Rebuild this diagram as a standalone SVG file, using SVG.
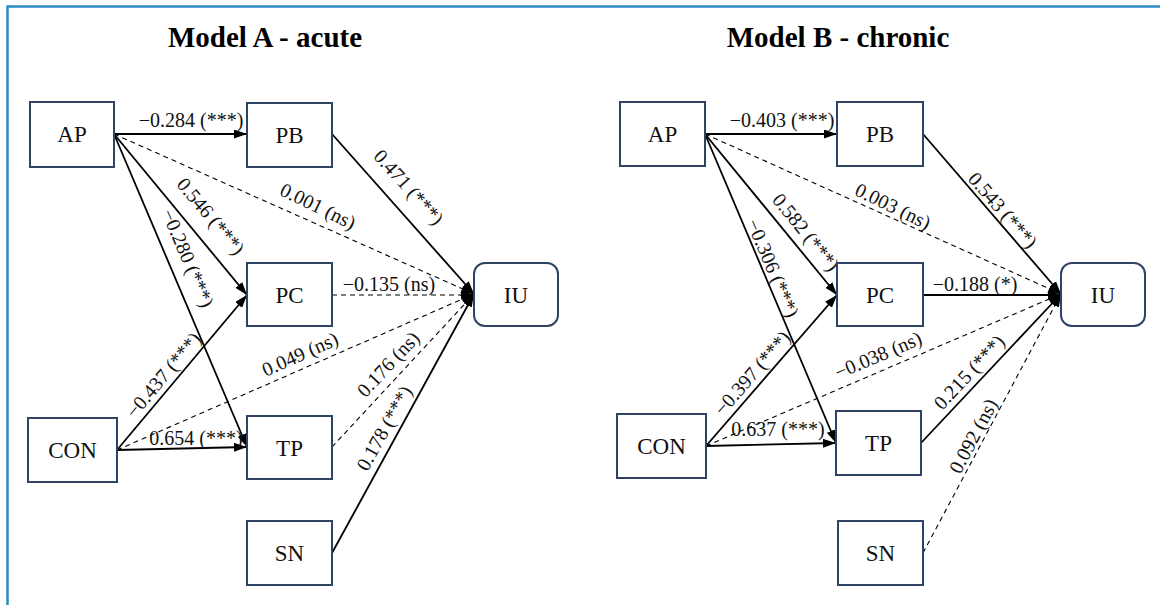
<svg xmlns="http://www.w3.org/2000/svg" width="1160" height="605" viewBox="0 0 1160 605">
<defs>
<marker id="ah" markerUnits="userSpaceOnUse" markerWidth="13" markerHeight="9" refX="13" refY="4.5" orient="auto">
<path d="M0,0 L13,4.5 L0,9 z" fill="#000"/>
</marker>
<style>
.frame{fill:none;stroke:#2a8cc4;stroke-width:2.5}
.box{fill:#fff;stroke:#2f4464;stroke-width:2}
.nt{font-size:23px;fill:#111;text-anchor:middle}
.title{font-size:29px;font-weight:bold;fill:#000;text-anchor:middle}
.el{font-size:20px;fill:#111;text-anchor:middle}
.s{stroke:#000;stroke-width:1.8;fill:none;marker-end:url(#ah)}
.d{stroke:#000;stroke-width:1.1;stroke-dasharray:5 4;fill:none;marker-end:url(#ah)}
</style>
</defs>
<rect width="1160" height="605" fill="#fff"/>
<path class="frame" d="M7.5,605 L7.5,6.5 L1160,6.5"/>
<g font-family="'Liberation Serif', 'Times New Roman', serif">
<text class="title" x="265" y="47">Model A - acute</text>
<text class="title" x="838" y="47">Model B - chronic</text>

<g id="connectors">
<!-- Model A -->
<line class="s" x1="114" y1="134" x2="247" y2="134"/>
<line class="d" x1="114" y1="134" x2="474" y2="294"/>
<line class="s" x1="114" y1="134" x2="247" y2="295"/>
<line class="s" x1="114" y1="134" x2="247" y2="447"/>
<line class="s" x1="117" y1="450" x2="247" y2="295"/>
<line class="s" x1="117" y1="450" x2="247" y2="447"/>
<line class="d" x1="117" y1="450" x2="474" y2="294"/>
<line class="s" x1="332" y1="134" x2="474" y2="294"/>
<line class="d" x1="332" y1="295" x2="474" y2="295"/>
<line class="d" x1="332" y1="447" x2="474" y2="294"/>
<line class="s" x1="332" y1="553" x2="474" y2="294"/>
<!-- Model B -->
<line class="s" x1="705" y1="134" x2="837" y2="134"/>
<line class="d" x1="705" y1="134" x2="1061" y2="294"/>
<line class="s" x1="705" y1="134" x2="837" y2="295"/>
<line class="s" x1="705" y1="134" x2="836" y2="443"/>
<line class="s" x1="706" y1="446" x2="837" y2="295"/>
<line class="s" x1="706" y1="446" x2="836" y2="443"/>
<line class="d" x1="706" y1="446" x2="1061" y2="294"/>
<line class="s" x1="923" y1="134" x2="1061" y2="294"/>
<line class="s" x1="923" y1="295" x2="1061" y2="295"/>
<line class="s" x1="921" y1="443" x2="1061" y2="294"/>
<line class="d" x1="923" y1="553" x2="1061" y2="294"/>

<!-- labels Model A -->
<text class="el" x="191" y="127">−0.284 (***)</text>
<text class="el" transform="translate(318,206) rotate(26)" dy="0.35em">0.001 (ns)</text>
<text class="el" transform="translate(211,216) rotate(50)" dy="0.35em">0.546 (***)</text>
<text class="el" transform="translate(188,258) rotate(67)" dy="0.35em">−0.280 (***)</text>
<text class="el" transform="translate(163,375) rotate(-50)" dy="0.35em">−0.437 (***)</text>
<text class="el" x="196" y="445">0.654 (***)</text>
<text class="el" transform="translate(300,354) rotate(-24)" dy="0.35em">0.049 (ns)</text>
<text class="el" transform="translate(409,187) rotate(48)" dy="0.35em">0.471 (***)</text>
<text class="el" x="389" y="291">−0.135 (ns)</text>
<text class="el" transform="translate(388,364) rotate(-47)" dy="0.35em">0.176 (ns)</text>
<text class="el" transform="translate(384,428) rotate(-61)" dy="0.35em">0.178 (***)</text>
<!-- labels Model B -->
<text class="el" x="782" y="127">−0.403 (***)</text>
<text class="el" transform="translate(893,206) rotate(26)" dy="0.35em">0.003 (ns)</text>
<text class="el" transform="translate(806,232) rotate(51)" dy="0.35em">0.582 (***)</text>
<text class="el" transform="translate(773,268) rotate(67)" dy="0.35em">−0.306 (***)</text>
<text class="el" transform="translate(752,373) rotate(-49)" dy="0.35em">−0.397 (***)</text>
<text class="el" x="778" y="436">0.637 (***)</text>
<text class="el" transform="translate(878,355) rotate(-23)" dy="0.35em">−0.038 (ns)</text>
<text class="el" transform="translate(1003,210) rotate(49)" dy="0.35em">0.543 (***)</text>
<text class="el" x="975" y="291">−0.188 (*)</text>
<text class="el" transform="translate(969,372) rotate(-47)" dy="0.35em">0.215 (***)</text>
<text class="el" transform="translate(973,436) rotate(-62)" dy="0.35em">0.092 (ns)</text>
</g>

<!-- Model A nodes -->
<g id="a-ap"><rect class="box" x="30" y="102" width="84" height="65"/><text class="nt" x="72" y="142">AP</text></g>
<g id="a-pb"><rect class="box" x="247" y="103" width="85" height="64"/><text class="nt" x="289.5" y="143">PB</text></g>
<g id="a-pc"><rect class="box" x="247" y="263" width="85" height="63"/><text class="nt" x="289.5" y="303">PC</text></g>
<g id="a-iu"><rect class="box" x="474" y="263" width="84" height="63" rx="11"/><text class="nt" x="516" y="303">IU</text></g>
<g id="a-con"><rect class="box" x="28" y="418" width="89" height="64"/><text class="nt" x="72.5" y="458">CON</text></g>
<g id="a-tp"><rect class="box" x="247" y="416" width="85" height="63"/><text class="nt" x="289.5" y="456">TP</text></g>
<g id="a-sn"><rect class="box" x="247" y="521" width="85" height="64"/><text class="nt" x="289.5" y="561">SN</text></g>

<!-- Model B nodes -->
<g id="b-ap"><rect class="box" x="620" y="102" width="85" height="64"/><text class="nt" x="662.5" y="142">AP</text></g>
<g id="b-pb"><rect class="box" x="837" y="102" width="86" height="64"/><text class="nt" x="880" y="142">PB</text></g>
<g id="b-pc"><rect class="box" x="837" y="263" width="86" height="63"/><text class="nt" x="880" y="303">PC</text></g>
<g id="b-iu"><rect class="box" x="1061" y="263" width="84" height="63" rx="11"/><text class="nt" x="1103" y="303">IU</text></g>
<g id="b-con"><rect class="box" x="617" y="414" width="89" height="64"/><text class="nt" x="661.5" y="454">CON</text></g>
<g id="b-tp"><rect class="box" x="836" y="411" width="85" height="64"/><text class="nt" x="878.5" y="451">TP</text></g>
<g id="b-sn"><rect class="box" x="838" y="521" width="85" height="64"/><text class="nt" x="880.5" y="561">SN</text></g>
</g>
</svg>
